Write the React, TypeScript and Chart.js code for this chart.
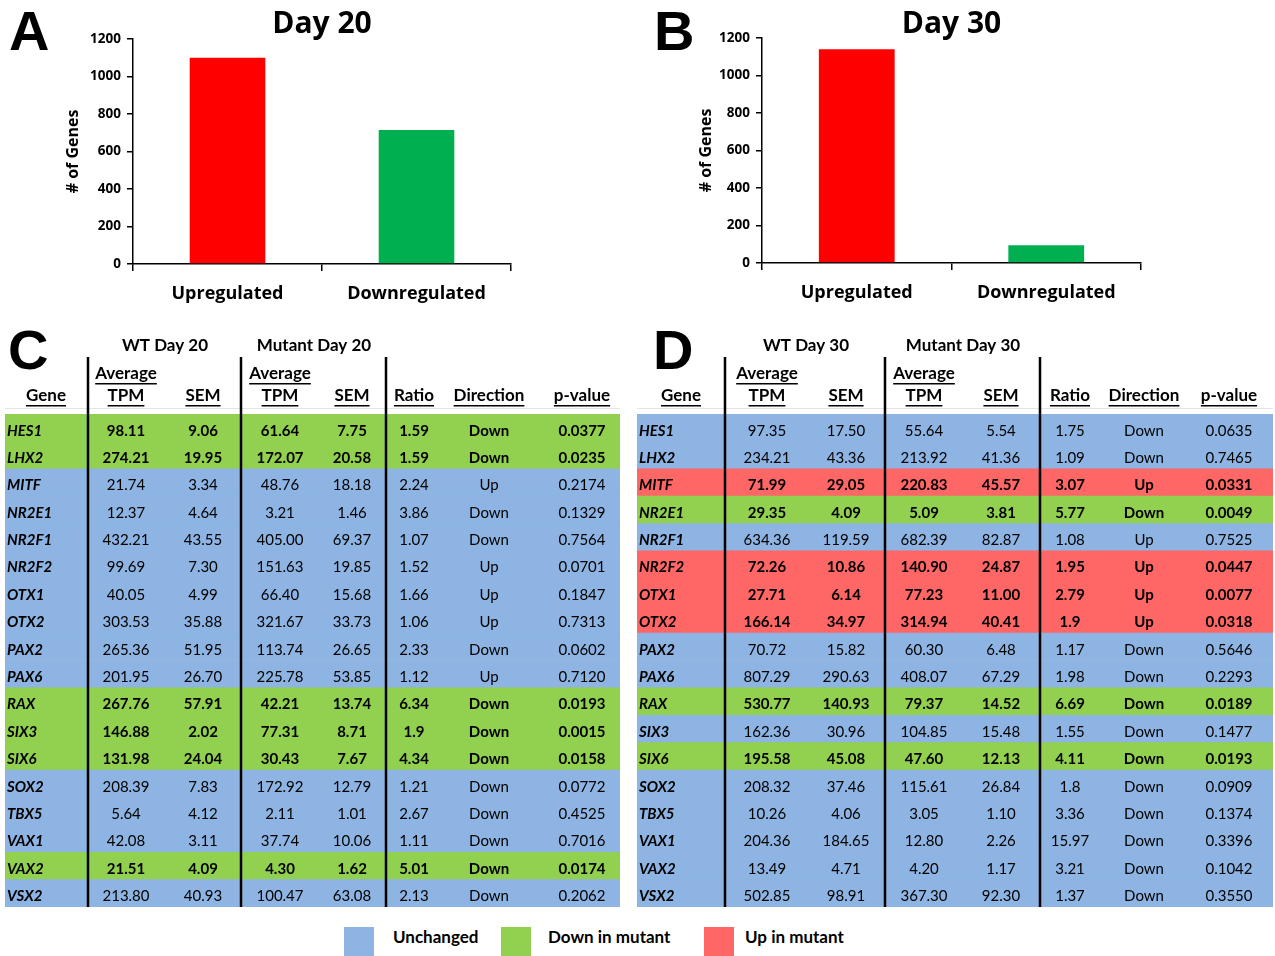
import React, { useEffect, useRef } from 'react';
import { Chart, registerables } from 'chart.js';
Chart.register(...registerables);

const FONT = 'Lato, "Open Sans", sans-serif';
const BAR_FONT = '"Open Sans", Lato, sans-serif';
const LETTER_FONT = '"Liberation Sans", Arial, sans-serif';

// ---- Bar chart data ----
const barCategories = ['Upregulated', 'Downregulated'];
const day20Counts = [1100, 715];
const day30Counts = [1140, 95];
const barColors = ['#FF0000', '#00B050'];
const yMax = 1200;
const yStep = 200;

// ---- Table data ----
const genes = ['HES1', 'LHX2', 'MITF', 'NR2E1', 'NR2F1', 'NR2F2', 'OTX1', 'OTX2', 'PAX2', 'PAX6', 'RAX', 'SIX3', 'SIX6', 'SOX2', 'TBX5', 'VAX1', 'VAX2', 'VSX2'];

const wt20Avg = ['98.11', '274.21', '21.74', '12.37', '432.21', '99.69', '40.05', '303.53', '265.36', '201.95', '267.76', '146.88', '131.98', '208.39', '5.64', '42.08', '21.51', '213.80'];
const wt20Sem = ['9.06', '19.95', '3.34', '4.64', '43.55', '7.30', '4.99', '35.88', '51.95', '26.70', '57.91', '2.02', '24.04', '7.83', '4.12', '3.11', '4.09', '40.93'];
const mut20Avg = ['61.64', '172.07', '48.76', '3.21', '405.00', '151.63', '66.40', '321.67', '113.74', '225.78', '42.21', '77.31', '30.43', '172.92', '2.11', '37.74', '4.30', '100.47'];
const mut20Sem = ['7.75', '20.58', '18.18', '1.46', '69.37', '19.85', '15.68', '33.73', '26.65', '53.85', '13.74', '8.71', '7.67', '12.79', '1.01', '10.06', '1.62', '63.08'];
const ratio20 = ['1.59', '1.59', '2.24', '3.86', '1.07', '1.52', '1.66', '1.06', '2.33', '1.12', '6.34', '1.9', '4.34', '1.21', '2.67', '1.11', '5.01', '2.13'];
const dir20 = ['Down', 'Down', 'Up', 'Down', 'Down', 'Up', 'Up', 'Up', 'Down', 'Up', 'Down', 'Down', 'Down', 'Down', 'Down', 'Down', 'Down', 'Down'];
const p20 = ['0.0377', '0.0235', '0.2174', '0.1329', '0.7564', '0.0701', '0.1847', '0.7313', '0.0602', '0.7120', '0.0193', '0.0015', '0.0158', '0.0772', '0.4525', '0.7016', '0.0174', '0.2062'];
const status20 = ['D', 'D', 'U', 'U', 'U', 'U', 'U', 'U', 'U', 'U', 'D', 'D', 'D', 'U', 'U', 'U', 'D', 'U'];

const wt30Avg = ['97.35', '234.21', '71.99', '29.35', '634.36', '72.26', '27.71', '166.14', '70.72', '807.29', '530.77', '162.36', '195.58', '208.32', '10.26', '204.36', '13.49', '502.85'];
const wt30Sem = ['17.50', '43.36', '29.05', '4.09', '119.59', '10.86', '6.14', '34.97', '15.82', '290.63', '140.93', '30.96', '45.08', '37.46', '4.06', '184.65', '4.71', '98.91'];
const mut30Avg = ['55.64', '213.92', '220.83', '5.09', '682.39', '140.90', '77.23', '314.94', '60.30', '408.07', '79.37', '104.85', '47.60', '115.61', '3.05', '12.80', '4.20', '367.30'];
const mut30Sem = ['5.54', '41.36', '45.57', '3.81', '82.87', '24.87', '11.00', '40.41', '6.48', '67.29', '14.52', '15.48', '12.13', '26.84', '1.10', '2.26', '1.17', '92.30'];
const ratio30 = ['1.75', '1.09', '3.07', '5.77', '1.08', '1.95', '2.79', '1.9', '1.17', '1.98', '6.69', '1.55', '4.11', '1.8', '3.36', '15.97', '3.21', '1.37'];
const dir30 = ['Down', 'Down', 'Up', 'Down', 'Up', 'Up', 'Up', 'Up', 'Down', 'Down', 'Down', 'Down', 'Down', 'Down', 'Down', 'Down', 'Down', 'Down'];
const p30 = ['0.0635', '0.7465', '0.0331', '0.0049', '0.7525', '0.0447', '0.0077', '0.0318', '0.5646', '0.2293', '0.0189', '0.1477', '0.0193', '0.0909', '0.1374', '0.3396', '0.1042', '0.3550'];
const status30 = ['U', 'U', 'R', 'D', 'U', 'R', 'R', 'R', 'U', 'U', 'D', 'U', 'D', 'U', 'U', 'U', 'U', 'U'];

const statusColors: Record<string, string> = { U: '#8DB4E2', D: '#92D050', R: '#FF6666' };
const legendLabels = ['Unchanged', 'Down in mutant', 'Up in mutant'];
const legendKeys = ['U', 'D', 'R'];

// ---------------- Bar panels ----------------
type BarLayout = { padLeft: number; yWidth: number; padRight: number; top: number; bottom: number; letterX: number };

function BarPanel(props: { letter: string; title: string; counts: number[]; left: number; width: number; lay: BarLayout }) {
  const ref = useRef<HTMLCanvasElement>(null);
  useEffect(() => {
    const { letter, title, counts, lay } = props;
    const deco = {
      id: 'deco',
      afterDraw(chart: any) {
        const { ctx, chartArea } = chart;
        ctx.save();
        ctx.fillStyle = '#000';
        ctx.textBaseline = 'alphabetic';
        ctx.textAlign = 'left';
        ctx.font = `bold 56px ${LETTER_FONT}`;
        ctx.fillText(letter, lay.letterX, 50);
        ctx.textAlign = 'center';
        ctx.font = `bold 30px ${BAR_FONT}`;
        ctx.fillText(title, (chartArea.left + chartArea.right) / 2, 33);
        ctx.restore();
      },
    };
    const chart = new Chart(ref.current!, {
      type: 'bar',
      data: {
        labels: barCategories,
        datasets: [{ data: counts, backgroundColor: barColors, barPercentage: 0.8, categoryPercentage: 0.5 }],
      },
      options: {
        animation: false,
        responsive: false,
        maintainAspectRatio: false,
        layout: { padding: { left: lay.padLeft, right: lay.padRight, top: lay.top, bottom: lay.bottom } },
        plugins: { legend: { display: false }, tooltip: { enabled: false } },
        scales: {
          x: {
            grid: { offset: true, drawOnChartArea: false, drawTicks: true, tickLength: 7, color: '#000', lineWidth: 1.5 },
            border: { color: '#000', width: 1.5 },
            ticks: { color: '#000', font: { family: BAR_FONT, size: 18, weight: 'bold' }, padding: 12 },
            afterFit: (s: any) => { s.height = 50; },
          },
          y: {
            min: 0,
            max: yMax,
            ticks: {
              stepSize: yStep, color: '#000', font: { family: BAR_FONT, size: 13.5, weight: 'bold' }, padding: 6,
              callback: (v: any) => String(v),
            },
            grid: { drawOnChartArea: false, tickLength: 6, color: '#000', lineWidth: 1.5 },
            border: { color: '#000', width: 1.5 },
            title: { display: true, text: '# of Genes', color: '#000', font: { family: BAR_FONT, size: 16, weight: 'bold' }, padding: 0 },
            afterFit: (s: any) => { s.width = lay.yWidth; },
          },
        },
      } as any,
      plugins: [deco],
    });
    return () => chart.destroy();
  }, []);
  return (
    <div style={{ position: 'absolute', left: props.left, top: 0, width: props.width, height: 320 }}>
      <canvas ref={ref} width={props.width} height={320} style={{ width: props.width, height: 320, display: 'block' }} />
    </div>
  );
}

// ---------------- Table panels ----------------
type TableCols = {
  gene: number; headerGene: number; wtAvg: number; wtSem: number; mutAvg: number; mutSem: number;
  ratio: number; dir: number; p: number; lines: number[]; wtGroup: number; mutGroup: number;
};

function TablePanel(props: {
  letter: string; letterX: number; wtLabel: string; mutLabel: string; left: number; width: number;
  padLeft: number; padRight: number; columns: string[][]; status: string[]; cols: TableCols;
}) {
  const ref = useRef<HTMLCanvasElement>(null);
  useEffect(() => {
    const { letter, letterX, wtLabel, mutLabel, columns, status, cols } = props;
    const textPlugin = {
      id: 'tableText',
      afterDatasetsDraw(chart: any) {
        const { ctx, chartArea: a, scales } = chart;
        const X = (off: number) => a.left + off;
        ctx.save();
        ctx.fillStyle = '#000';
        // panel letter
        ctx.textAlign = 'left';
        ctx.textBaseline = 'alphabetic';
        ctx.font = `bold 56px ${LETTER_FONT}`;
        ctx.fillText(letter, letterX, 49);
        // group headers
        ctx.textAlign = 'center';
        ctx.textBaseline = 'middle';
        ctx.font = `bold 17px ${FONT}`;
        ctx.fillText(wtLabel, X(cols.wtGroup), 26);
        ctx.fillText(mutLabel, X(cols.mutGroup), 26);
        const underlined = (t: string, x: number, y: number) => {
          ctx.fillText(t, x, y);
          const w = ctx.measureText(t).width;
          ctx.fillRect(x - w / 2, y + 9, w, 1.5);
        };
        underlined('Average', X(cols.wtAvg), 54);
        underlined('Average', X(cols.mutAvg), 54);
        underlined('Gene', X(cols.headerGene), 76);
        underlined('TPM', X(cols.wtAvg), 76);
        underlined('SEM', X(cols.wtSem), 76);
        underlined('TPM', X(cols.mutAvg), 76);
        underlined('SEM', X(cols.mutSem), 76);
        underlined('Ratio', X(cols.ratio), 76);
        underlined('Direction', X(cols.dir), 76);
        underlined('p-value', X(cols.p), 76);
        // faint separator under header
        ctx.fillStyle = '#E4E4E4';
        ctx.fillRect(a.left, 88, a.right - a.left, 1);
        ctx.fillStyle = '#000';
        // cells
        const valueCols = [cols.wtAvg, cols.wtSem, cols.mutAvg, cols.mutSem, cols.ratio, cols.dir, cols.p];
        genes.forEach((g, i) => {
          const y = scales.y.getPixelForValue(i) + 3;
          const bold = status[i] !== 'U';
          ctx.textAlign = 'left';
          ctx.font = `italic bold 15px ${FONT}`;
          ctx.fillText(g, X(cols.gene), y);
          ctx.textAlign = 'center';
          ctx.font = `${bold ? 'bold ' : ''}15px ${FONT}`;
          columns.forEach((col, c) => ctx.fillText(col[i], X(valueCols[c]), y));
        });
        // vertical separators
        cols.lines.forEach((l) => ctx.fillRect(X(l) - 1.25, 37, 2.5, a.bottom - 37));
        ctx.restore();
      },
    };
    const chart = new Chart(ref.current!, {
      type: 'bar',
      data: {
        labels: genes,
        datasets: [{
          data: genes.map(() => [0, 1]),
          backgroundColor: status.map((s) => statusColors[s]),
          barPercentage: 1,
          categoryPercentage: 1,
          borderWidth: 0,
        }],
      },
      options: {
        indexAxis: 'y',
        animation: false,
        responsive: false,
        maintainAspectRatio: false,
        layout: { padding: { left: props.padLeft, right: props.padRight, top: 94, bottom: 13 } },
        plugins: { legend: { display: false }, tooltip: { enabled: false } },
        scales: {
          x: { type: 'linear', min: 0, max: 1, display: false },
          y: { type: 'category', display: false },
        },
      } as any,
      plugins: [textPlugin],
    });
    return () => chart.destroy();
  }, []);
  return (
    <div style={{ position: 'absolute', left: props.left, top: 320, width: props.width, height: 600 }}>
      <canvas ref={ref} width={props.width} height={600} style={{ width: props.width, height: 600, display: 'block' }} />
    </div>
  );
}

const colsC: TableCols = { gene: 2, headerGene: 41, wtAvg: 121, wtSem: 198, mutAvg: 275, mutSem: 347, ratio: 409, dir: 484, p: 577, lines: [83, 236, 381], wtGroup: 160, mutGroup: 309 };
const colsD: TableCols = { gene: 2, headerGene: 44, wtAvg: 130, wtSem: 209, mutAvg: 287, mutSem: 364, ratio: 433, dir: 507, p: 592, lines: [88, 248, 403], wtGroup: 169, mutGroup: 326 };

const legendX = [344, 501, 704];
const legendTextX = [393, 548, 745];

export default function App() {
  return (
    <div style={{ position: 'absolute', left: 0, top: 0, width: 1275, height: 956, background: '#fff', overflow: 'hidden' }}>
      <BarPanel letter="A" title="Day 20" counts={day20Counts} left={0} width={640}
        lay={{ padLeft: 64, yWidth: 69, padRight: 129, top: 39, bottom: 6, letterX: 9 }} />
      <BarPanel letter="B" title="Day 30" counts={day30Counts} left={640} width={635}
        lay={{ padLeft: 57, yWidth: 65, padRight: 134, top: 38, bottom: 7, letterX: 14 }} />
      <TablePanel letter="C" letterX={8} wtLabel="WT Day 20" mutLabel="Mutant Day 20" left={0} width={630}
        padLeft={5} padRight={10}
        columns={[wt20Avg, wt20Sem, mut20Avg, mut20Sem, ratio20, dir20, p20]} status={status20} cols={colsC} />
      <TablePanel letter="D" letterX={23} wtLabel="WT Day 30" mutLabel="Mutant Day 30" left={630} width={645}
        padLeft={7} padRight={2}
        columns={[wt30Avg, wt30Sem, mut30Avg, mut30Sem, ratio30, dir30, p30]} status={status30} cols={colsD} />
      {legendKeys.map((k, i) => (
        <React.Fragment key={k}>
          <div style={{ position: 'absolute', left: legendX[i], top: 927, width: 30, height: 29, background: statusColors[k] }} />
          <div style={{ position: 'absolute', left: legendTextX[i], top: 925, height: 24, lineHeight: '24px', fontFamily: FONT, fontWeight: 'bold', fontSize: 17, color: '#000', whiteSpace: 'nowrap' }}>
            {legendLabels[i]}
          </div>
        </React.Fragment>
      ))}
    </div>
  );
}
